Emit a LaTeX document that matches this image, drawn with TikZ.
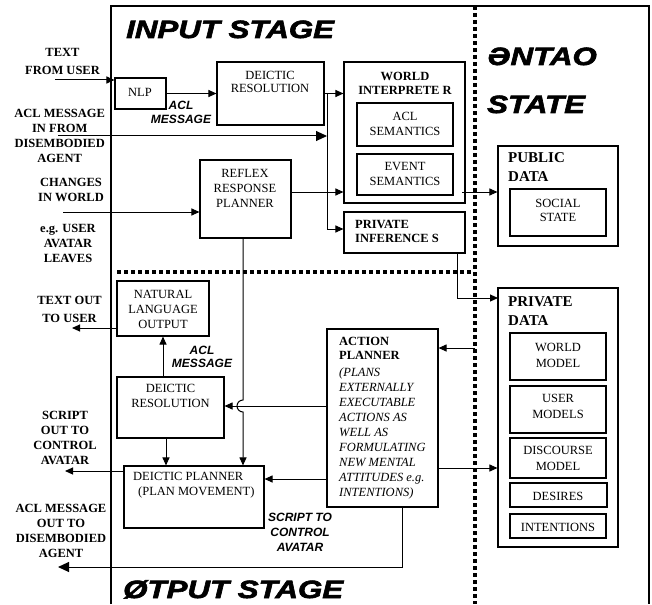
\documentclass[tikz,border=0pt]{standalone}
\usepackage{fontspec}
\setmainfont{Liberation Serif}
\newfontfamily\lsans{Liberation Sans}
\newfontfamily\titlefont[FakeStretch=1.25,FakeBold=2.5]{Liberation Sans}
\usetikzlibrary{arrows.meta,fit}
\begin{document}
\begin{tikzpicture}[x=1pt,y=-1pt,
  box/.style={draw, line width=1.1pt, inner sep=0pt},
  arr/.style={-{Triangle[length=8pt,width=7pt]}, line width=1pt},
  bigarr/.style={-{Triangle[length=11pt,width=10pt]}, line width=1pt},
  lbl/.style={font=\fontsize{12.5}{15}\selectfont\bfseries, align=center, inner sep=0pt},
  txt/.style={font=\fontsize{12.5}{15}\selectfont, align=center, inner sep=0pt},
  sbi/.style={font=\lsans\fontsize{12}{14}\selectfont\bfseries\itshape, align=center, inner sep=0pt},
  ttl/.style={font=\titlefont\fontsize{25}{30}\selectfont\bfseries\itshape, anchor=base west, inner sep=0pt},
  dotline/.style={line width=4pt, dash pattern=on 4pt off 3pt}]
\useasboundingbox (0,0) rectangle (652,604);
% frame and stage separators
\draw[line width=1.1pt] (111,604) -- (111,6) -- (649,6) -- (649,604);
\draw[dotline] (475,6) -- (475,604);
\draw[dotline] (117,272) -- (473,272);
% titles
\node[ttl] (tin) at (126,38) {INPUT STAGE};
\node[ttl] (tont) at (487,65) {ƏNTAO};
\node[ttl] (tst) at (487,113) {STATE};
\node[ttl] (tout) at (123,598) {ØTPUT STAGE};
% boxes
\node[box, fit={(115,78) (166,109)}] (nlp) {};
\node[box, fit={(217,62) (324,125)}] (dr1) {};
\node[box, fit={(344,62) (465,203)}] (wi) {};
\node[box, fit={(357,103) (453,146)}] (acls) {};
\node[box, fit={(357,154) (453,195)}] (evs) {};
\node[box, fit={(344,212) (465,253)}] (pi) {};
\node[box, fit={(498,146) (618,246)}] (pub) {};
\node[box, fit={(510,189) (606,236)}] (soc) {};
\node[box, fit={(200,160) (291,238)}] (reflex) {};
\node[box, fit={(117,281) (209,336)}] (nlo) {};
\node[box, fit={(117,377) (224,438)}] (dr2) {};
\node[box, fit={(124,466) (264,528)}] (dp) {};
\node[box, fit={(327,329) (438,507)}] (ap) {};
\node[box, fit={(498,288) (618,547)}] (prd) {};
\node[box, fit={(510,333) (606,380)}] (wm) {};
\node[box, fit={(510,386) (606,433)}] (um) {};
\node[box, fit={(510,438) (606,478)}] (dm) {};
\node[box, fit={(510,483) (607,507)}] (des) {};
\node[box, fit={(510,514) (606,538)}] (int) {};
% box texts
\node[txt] (nlpt) at (140,92.5) {NLP};
\node[txt, font=\fontsize{12.5}{13}\selectfont] (dr1t) at (270,82) {DEICTIC\\RESOLUTION};
\node[lbl, font=\fontsize{12.5}{14}\selectfont\bfseries] (wit) at (405,83) {WORLD\\INTERPRETE R};
\node[txt] (aclst) at (405,123.5) {ACL\\SEMANTICS};
\node[txt] (evst) at (405,173.5) {EVENT\\SEMANTICS};
\node[lbl, font=\fontsize{12.5}{14}\selectfont\bfseries, align=left, anchor=west] (pit) at (355,231.5) {PRIVATE\\INFERENCE S};
\node[lbl, font=\fontsize{15}{19}\selectfont\bfseries, align=left, anchor=west] (pubt) at (508,167.5) {PUBLIC\\DATA};
\node[txt, font=\fontsize{12.5}{14}\selectfont] (soct) at (558,210.5) {SOCIAL\\STATE};
\node[txt] (reflext) at (245,188) {REFLEX\\RESPONSE\\PLANNER};
\node[txt] (nlot) at (163,309.5) {NATURAL\\LANGUAGE\\OUTPUT};
\node[txt] (dr2t) at (170.5,396) {DEICTIC\\RESOLUTION};
\node[txt, align=left, anchor=west] (dpt) at (133,485.5) {DEICTIC PLANNER\\\hspace*{5pt}(PLAN MOVEMENT)};
\node[txt, align=left, anchor=north west] (apt) at (339,337) {\textbf{ACTION}\\[-1pt]\textbf{PLANNER}\\[2pt]\textit{(PLANS}\\\textit{EXTERNALLY}\\\textit{EXECUTABLE}\\\textit{ACTIONS AS}\\\textit{WELL AS}\\\textit{FORMULATING}\\\textit{NEW MENTAL}\\\textit{ATTITUDES e.g.}\\\textit{INTENTIONS)}};
\node[lbl, font=\fontsize{15}{19}\selectfont\bfseries, align=left, anchor=west] (prdt) at (508,311.5) {PRIVATE\\DATA};
\node[txt, font=\fontsize{12.5}{16}\selectfont] (wmt) at (558,355.5) {WORLD\\MODEL};
\node[txt, font=\fontsize{12.5}{16}\selectfont] (umt) at (558,406) {USER\\MODELS};
\node[txt, font=\fontsize{12.5}{16}\selectfont] (dmt) at (558,458.5) {DISCOURSE\\MODEL};
\node[txt] (dest) at (558,496.5) {DESIRES};
\node[txt] (intt) at (558,527) {INTENTIONS};
% outside labels
\node[lbl, font=\fontsize{12.5}{18}\selectfont\bfseries] (l1) at (62.5,61.5) {TEXT\\FROM USER};
\node[lbl] (l2) at (59.7,136.3) {ACL MESSAGE\\IN FROM\\DISEMBODIED\\AGENT};
\node[lbl] (l3) at (71,190) {CHANGES\\IN WORLD};
\node[lbl] (l4) at (68,243.5) {e.g. USER\\AVATAR\\LEAVES};
\node[lbl, font=\fontsize{12.5}{18}\selectfont\bfseries] (l5) at (69.5,309) {TEXT OUT\\TO USER};
\node[lbl] (l6) at (65,437.5) {SCRIPT\\OUT TO\\CONTROL\\AVATAR};
\node[lbl] (l7) at (61,531) {ACL MESSAGE\\OUT TO\\DISEMBODIED\\AGENT};
% sans labels
\node[sbi] (s1) at (181,112) {ACL\\MESSAGE};
\node[sbi, font=\lsans\fontsize{12}{13.5}\selectfont\bfseries\itshape] (s2) at (202,357) {ACL\\MESSAGE};
\node[sbi, font=\lsans\fontsize{12}{15}\selectfont\bfseries\itshape] (s3) at (300,532) {SCRIPT TO\\CONTROL\\AVATAR};
% coordinates
\coordinate (tfu) at (55,80);
\coordinate (aclin) at (58,136);
\coordinate (bus1) at (327,93);
\coordinate (bus2) at (327,229);
\coordinate (r2w) at (291,192);
\coordinate (es2) at (462,192);
\coordinate (pi2) at (457,253);
\coordinate (pd1) at (498,298);
\coordinate (ciw) at (63,212);
\coordinate (ap1) at (475,348);
\coordinate (ap2) at (438,468);
\coordinate (ap3) at (327,406);
\coordinate (ap4) at (327,479);
\coordinate (ap5) at (402,507);
\coordinate (aout) at (58,567);
\coordinate (rf) at (243,238);
\coordinate (hop) at (243,400);
\coordinate (d2s) at (166,438);
\coordinate (d2n) at (163,377);
\coordinate (tou) at (72,328);
\coordinate (sou) at (65,471);
% connectors
\draw[arr] (tfu) -- (tfu -| nlp.west);
\draw[arr] (nlp.east) -- (nlp.east -| dr1.west);
\draw[bigarr] (aclin) -- (aclin -| bus1);
\draw[arr] (dr1.east) -- (dr1.east -| wi.west);
\draw[line width=1pt] (bus1) -- (bus2);
\draw[arr] (bus2) -- (bus2 -| pi.west);
\draw[arr] (r2w) -- (r2w -| wi.west);
\draw[arr] (es2) -- (es2 -| pub.west);
\draw[arr] (pi2) |- (pd1);
\draw[arr] (ciw) -- (ciw -| reflex.west);
\draw[arr] (ap1) -- (ap1 -| ap.east);
\draw[arr] (ap2) -- (ap2 -| prd.west);
\draw[arr] (ap3) -- (ap3 -| dr2.east);
\draw[arr] (ap4) -- (ap4 -| dp.east);
\draw[bigarr] (ap5) |- (aout);
\draw[arr] (rf) -- (hop) arc[start angle=270, end angle=90, radius=6] -- (rf |- dp.north);
\draw[arr] (d2s) -- (d2s |- dp.north);
\draw[arr] (d2n) -- (d2n |- nlo.south);
\draw[arr] (nlo.west |- tou) -- (tou);
\draw[arr] (dp.west |- sou) -- (sou);
\end{tikzpicture}
\end{document}
